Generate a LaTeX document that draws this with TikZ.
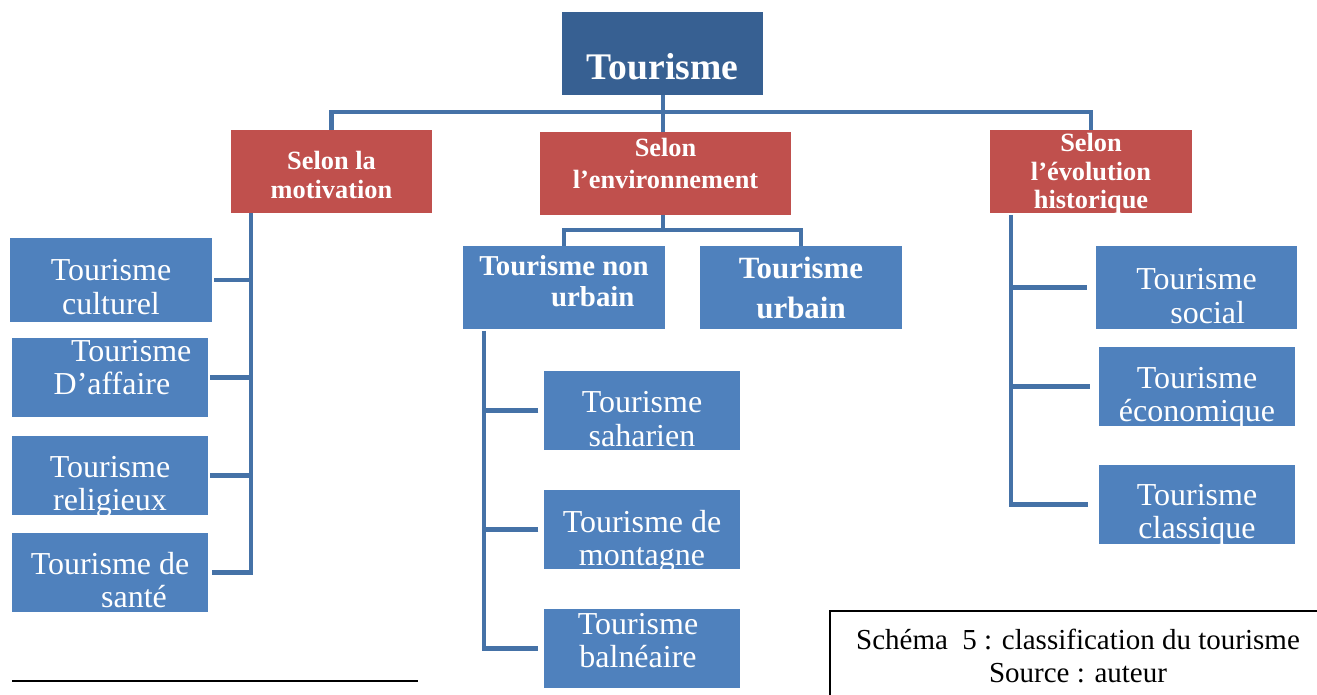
\documentclass[tikz,border=0pt]{standalone}
\usepackage{fontspec}
\setmainfont{Liberation Serif}
\usetikzlibrary{calc}
\definecolor{darkblue}{RGB}{55,96,146}
\definecolor{accred}{RGB}{192,80,77}
\definecolor{accblue}{RGB}{79,129,189}
\definecolor{linkblue}{RGB}{69,114,167}
\tikzset{
  box/.style={rectangle, inner sep=0pt, draw=none},
  leafbox/.style={box, fill=accblue, minimum width=3.92cm, minimum height=1.58cm},
  txt/.style={inner sep=0pt, align=center, text=white},
  leaftxt/.style={txt, font=\fontsize{18.2}{18.9}\selectfont},
  selontxt/.style={txt, font=\bfseries\fontsize{15}{17}\selectfont},
  conn/.style={draw=linkblue, line width=2.8pt},
}
\begin{document}
\begin{tikzpicture}[x=0.02cm,y=-0.02cm]
\clip (0,0) rectangle (1317,695);
\fill[white] (0,0) rectangle (1317,695);

% root
\node[box, fill=darkblue, minimum width=4.02cm, minimum height=1.66cm] (top) at (662.5,53.5) {};
\node[txt, font=\bfseries\fontsize{21.4}{22}\selectfont] (topt) at (662.5,67) {Tourisme};

% level 1
\node[box, fill=accred, minimum width=4.02cm, minimum height=1.66cm] (mot) at (331.5,171.5) {};
\node[selontxt, font=\bfseries\fontsize{15}{17}\selectfont] (mott) at (331.5,175) {Selon la\\motivation};
\node[box, fill=accred, minimum width=5.02cm, minimum height=1.66cm] (env) at (665.5,173.5) {};
\node[selontxt, font=\bfseries\fontsize{15}{18.1}\selectfont] (envt) at (665.5,163.5) {Selon\\l’environnement};
\node[box, fill=accred, minimum width=4.04cm, minimum height=1.66cm] (evo) at (1091,171.5) {};
\node[selontxt, font=\bfseries\fontsize{15}{16.2}\selectfont] (evot) at (1091,174) {Selon\\l’évolution\\historique};

% left column
\node[leafbox, minimum width=4.04cm, minimum height=1.68cm] (cult) at (111,280) {};
\node[leaftxt] (cultt) at (111,287) {Tourisme\\culturel};
\node[leafbox] (aff) at (110,377.5) {};
\node[leaftxt] (afft) at (112,367.5) {\hspace*{1.2em}Tourisme\\D’affaire};
\node[leafbox] (rel) at (110,475.5) {};
\node[leaftxt] (relt) at (110,487) {Tourisme\\religieux};
\node[leafbox] (sante) at (110,572.5) {};
\node[leaftxt] (santet) at (110,580) {Tourisme de\\\hspace*{1.5em}santé};

% middle column
\node[box, fill=accblue, minimum width=4.04cm, minimum height=1.66cm] (nonurb) at (564,287.5) {};
\node[txt, font=\bfseries\fontsize{16.4}{17.6}\selectfont] (nonurbt) at (564,281.5) {Tourisme non\\\hspace*{2em}urbain};
\node[box, fill=accblue, minimum width=4.04cm, minimum height=1.66cm] (urb) at (801,287.5) {};
\node[txt, font=\bfseries\fontsize{17.6}{22.7}\selectfont] (urbt) at (801,288) {Tourisme\\urbain};
\node[leafbox] (sah) at (642,410.5) {};
\node[leaftxt] (saht) at (642,419) {Tourisme\\saharien};
\node[leafbox] (mont) at (642,529.5) {};
\node[leaftxt] (montt) at (642,541.5) {Tourisme de\\montagne};
\node[leafbox] (baln) at (642,648.5) {};
\node[leaftxt] (balnt) at (638,640.5) {Tourisme\\balnéaire};

% right column
\node[box, fill=accblue, minimum width=4.02cm, minimum height=1.66cm] (soc) at (1196.5,287.5) {};
\node[leaftxt] (soct) at (1196.5,296) {Tourisme\\\hspace*{0.7em}social};
\node[leafbox] (eco) at (1197,386.5) {};
\node[leaftxt] (ecot) at (1197,397.5) {Tourisme\\économique};
\node[leafbox] (cla) at (1197,504.5) {};
\node[leaftxt] (clat) at (1197,515) {Tourisme\\classique};

% connectors: root to level 1
\coordinate (bar) at (663,112);
\draw[conn] (top.south -| bar) -- (env.north -| bar);
\draw[conn] (mot.north) |- (bar) -| (evo.north);

% motivation spine
\coordinate (lspine) at (251,213);
\draw[conn, shorten >=2pt] (lspine) |- (sante.east);
\foreach \n in {cult,aff,rel}
  \draw[conn, shorten <=1pt] (\n.east) -- (\n.east -| lspine);

% environment
\coordinate (mbar) at (663,230);
\draw[conn] (env.south -| mbar) -- (mbar);
\draw[conn] (nonurb.north) |- (mbar) -| (urb.north);

% non urbain spine
\coordinate (mspine) at (484,331);
\draw[conn, shorten >=3pt] (mspine) |- (baln.west);
\foreach \n in {sah,mont}
  \draw[conn, shorten <=3pt] (\n.west) -- (\n.west -| mspine);

% evolution spine
\coordinate (rspine) at (1011,215);
\draw[conn, shorten >=6pt] (rspine) |- (cla.west);
\foreach \n in {soc,eco}
  \draw[conn, shorten <=5pt] (\n.west) -- (\n.west -| rspine);

% caption
\node[draw=black, line width=0.8pt, minimum width=9.92cm, minimum height=1.9cm, inner sep=0pt] (capbox) at (1078,658.5) {};
\node[inner sep=0pt, align=center, font=\fontsize{16.5}{18.7}\selectfont] (capt) at (1078,656) {Schéma\ \ 5 : classification du tourisme\\Source : auteur};

% footnote rule
\draw[black, line width=0.6pt] (12,681) -- (418,681);
\end{tikzpicture}
\end{document}
